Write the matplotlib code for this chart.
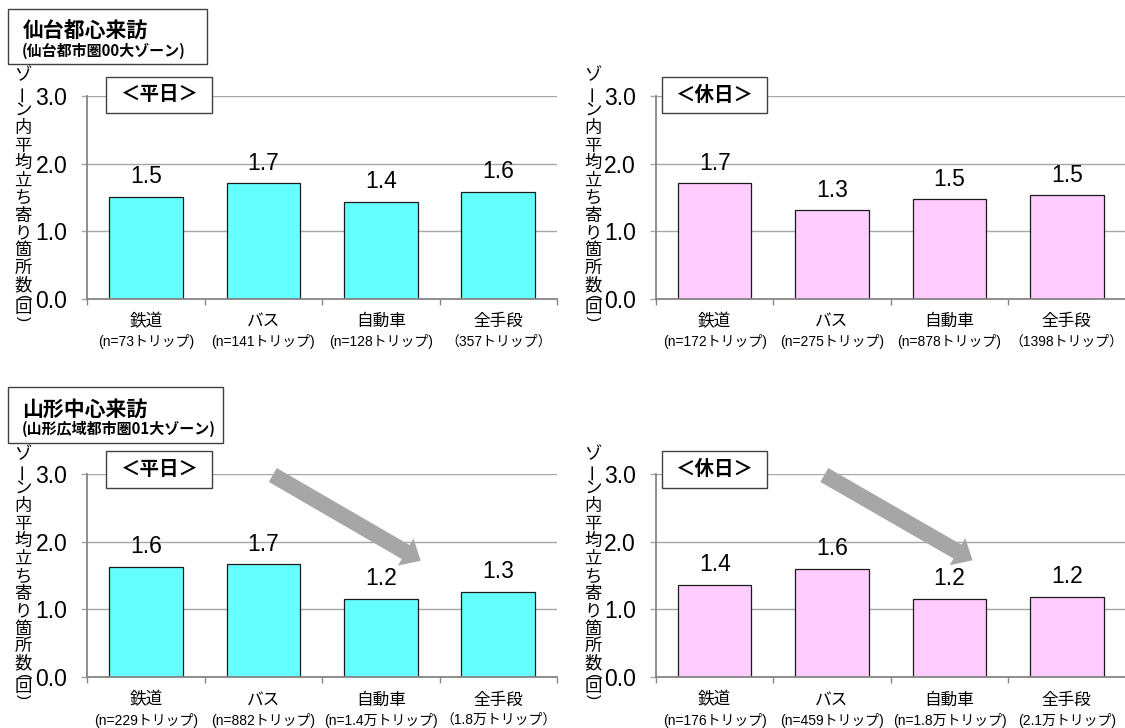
import matplotlib
matplotlib.use("Agg")
import matplotlib.pyplot as plt
from matplotlib.patches import Rectangle

plt.rcParams['font.family'] = ['Liberation Sans', 'Noto Sans CJK JP']

# ---- data ----
modes = ['鉄道', 'バス', '自動車', '全手段']

sendai_weekday = [1.51, 1.71, 1.43, 1.58]
sendai_holiday = [1.71, 1.31, 1.47, 1.53]
yamagata_weekday = [1.63, 1.67, 1.16, 1.26]
yamagata_holiday = [1.36, 1.60, 1.16, 1.19]

sendai_weekday_n = ['(n=73トリップ)', '(n=141トリップ)', '(n=128トリップ)', '（357トリップ）']
sendai_holiday_n = ['(n=172トリップ)', '(n=275トリップ)', '(n=878トリップ)', '（1398トリップ）']
yamagata_weekday_n = ['(n=229トリップ)', '(n=882トリップ)', '(n=1.4万トリップ)', '（1.8万トリップ）']
yamagata_holiday_n = ['(n=176トリップ)', '(n=459トリップ)', '(n=1.8万トリップ)', '(2.1万トリップ)']

y_ticks = [0.0, 1.0, 2.0, 3.0]
y_label_chars = ['ゾ', 'ー', 'ン', '内', '平', '均', '立', 'ち', '寄', 'り',
                 '箇', '所', '数', '(', '回', ')']

sendai_title = '仙台都心来訪'
sendai_sub = '(仙台都市圏00大ゾーン)'
yamagata_title = '山形中心来訪'
yamagata_sub = '(山形広域都市圏01大ゾーン)'
weekday_tag = '＜平日＞'
holiday_tag = '＜休日＞'

CYAN = '#66FFFF'
PINK = '#FFCCFF'
GRID = '#A6A6A6'
SPINE = '#868686'
ARROW = '#A6A6A6'

W, H = 1125, 728
fig = plt.figure(figsize=(W / 100, H / 100), dpi=100)
fig.patch.set_facecolor('white')


def fx(x):
    return x / W


def fy(y):
    return 1 - y / H


def add_panel(left, top, bottom, right, values, nlabels, color, tag, tag_box, ylab_x):
    ax = fig.add_axes([fx(left), fy(bottom), fx(right) - fx(left), fy(top) - fy(bottom)])
    x = list(range(len(values)))
    ax.bar(x, values, width=0.627, color=color, edgecolor='#1a1a1a', linewidth=0.9, zorder=3)
    ax.set_xlim(-0.5, len(values) - 0.5)
    ax.set_ylim(0, 3.0)
    ax.set_yticks(y_ticks)
    ax.set_yticklabels([f'{t:.1f}' for t in y_ticks], fontsize=16.5,
                       family='Liberation Sans')
    ax.tick_params(axis='y', length=4.5, width=1.0, color=GRID, pad=10)
    ax.set_xticks([i - 0.5 for i in range(len(values) + 1)])
    ax.set_xticklabels([])
    ax.tick_params(axis='x', length=4, width=1.0, color=SPINE)
    ax.grid(axis='y', color=GRID, linewidth=1.0, zorder=0)
    ax.set_axisbelow(True)
    for s in ['top', 'right']:
        ax.spines[s].set_visible(False)
    ax.spines['left'].set_color(SPINE)
    ax.spines['left'].set_linewidth(1.3)
    ax.spines['bottom'].set_color(SPINE)
    ax.spines['bottom'].set_linewidth(1.3)
    ax.spines['left'].set_zorder(4)
    ax.spines['bottom'].set_zorder(4)

    for i, v in enumerate(values):
        ax.annotate(f'{v:.1f}', xy=(i, v), xytext=(0, 14.5), textcoords='offset points',
                    ha='center', va='center', fontsize=16.5, family='Liberation Sans',
                    zorder=5)

    tr = ax.get_xaxis_transform()
    for i, (m, n) in enumerate(zip(modes, nlabels)):
        ax.text(i, -0.1135, m, transform=tr, ha='center', va='center', fontsize=12,
                family=['Noto Sans CJK JP'])
        ax.text(i, -0.2122, n, transform=tr, ha='center', va='center', fontsize=10,
                family=['Liberation Sans', 'Noto Sans CJK JP'])

    # tag box above the plot area
    bx0, by0, bx1, by1 = tag_box
    fig.patches.append(Rectangle((fx(bx0), fy(by1)), fx(bx1) - fx(bx0), fy(by0) - fy(by1),
                                 transform=fig.transFigure, facecolor='white',
                                 edgecolor='#404040', linewidth=1.0, zorder=5))
    fig.text(fx((bx0 + bx1) / 2), fy((by0 + by1) / 2), tag, ha='center', va='center',
             fontsize=14, fontweight='bold', family=['Noto Sans CJK JP'], zorder=6)

    # vertical axis title, stacked characters (parentheses turned for vertical writing)
    pitch = 17.5
    offsets = [i * pitch for i in range(13)] + [12.72 * pitch, 13.3 * pitch, 13.88 * pitch]
    y0 = top - 20.5
    for ch, off in zip(y_label_chars, offsets):
        if ch == 'ー':
            fig.text(fx(ylab_x), fy(y0 + off), ch, ha='center', va='center', fontsize=12.5,
                     rotation=90, family=['Noto Sans CJK JP'])
        elif ch in '()':
            fig.text(fx(ylab_x), fy(y0 + off), ch, ha='center', va='center', fontsize=11,
                     rotation=-90, family=['Liberation Sans'])
        else:
            fig.text(fx(ylab_x), fy(y0 + off), ch, ha='center', va='center', fontsize=12.5,
                     family=['Noto Sans CJK JP'])
    return ax


def add_title_box(x0, y0, x1, y1, title, sub):
    fig.patches.append(Rectangle((fx(x0), fy(y1)), fx(x1) - fx(x0), fy(y0) - fy(y1),
                                 transform=fig.transFigure, facecolor='white',
                                 edgecolor='#404040', linewidth=1.0, zorder=5))
    fig.text(fx(x0 + 14), fy(y0 + 21.5), title, ha='left', va='center', fontsize=15,
             fontweight='bold', family=['Noto Sans CJK JP'], zorder=6)
    fig.text(fx(x0 + 13), fy(y0 + 42), sub, ha='left', va='center', fontsize=10.8,
             fontweight='bold', family=['Noto Sans CJK JP'], zorder=6)


ax1 = add_panel(87.3, 96.0, 298.7, 556.9, sendai_weekday, sendai_weekday_n, CYAN,
                weekday_tag, (106, 76.7, 211.7, 113.3), 23)
ax2 = add_panel(656.0, 96.0, 298.7, 1125.5, sendai_holiday, sendai_holiday_n, PINK,
                holiday_tag, (661.7, 76.7, 766.7, 113.3), 593)
ax3 = add_panel(87.3, 474.3, 677.0, 556.9, yamagata_weekday, yamagata_weekday_n, CYAN,
                weekday_tag, (106, 451.3, 211.7, 488.3), 23)
ax4 = add_panel(656.0, 474.3, 677.0, 1125.5, yamagata_holiday, yamagata_holiday_n, PINK,
                holiday_tag, (661.7, 451.3, 766.7, 488.3), 593)

add_title_box(8.3, 9.3, 207.3, 64.0, sendai_title, sendai_sub)
add_title_box(8.3, 387.3, 222.7, 443.3, yamagata_title, yamagata_sub)

# downward trend arrows on the Yamagata panels
arrow_style = 'simple,head_length=1.25,head_width=2.25,tail_width=1.15'
for ax, tail, tip in [(ax3, (1.08, 2.99), (2.34, 1.72)),
                      (ax4, (0.934, 2.99), (2.197, 1.727))]:
    ax.annotate('', xy=tip, xytext=tail,
                arrowprops=dict(arrowstyle=arrow_style, mutation_scale=10,
                                facecolor=ARROW, edgecolor='none',
                                shrinkA=0, shrinkB=0),
                zorder=6, annotation_clip=False)

fig.savefig('out.png', dpi=100, facecolor='white')
